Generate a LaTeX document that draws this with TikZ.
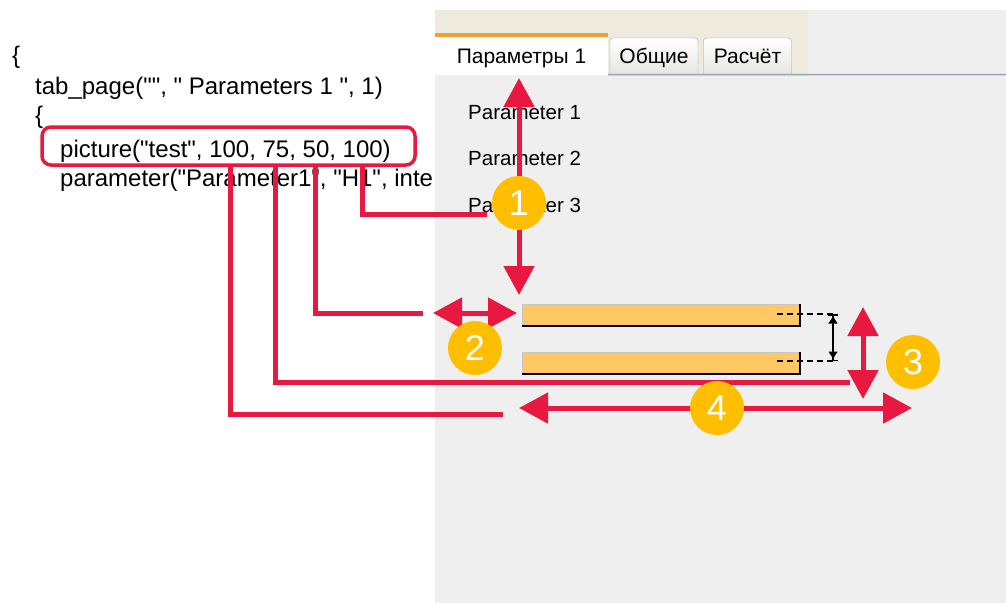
\documentclass[tikz,border=0pt]{standalone}
\usepackage{fontspec}
\setmainfont{Liberation Sans}[Ligatures=TeXOff]
\usetikzlibrary{arrows.meta}
\definecolor{rouge}{RGB}{232,24,64}
\definecolor{jaune}{RGB}{255,190,0}
\definecolor{panneau}{RGB}{239,239,239}
\definecolor{beige}{RGB}{238,234,222}
\definecolor{orangeonglet}{RGB}{240,160,50}
\definecolor{barre}{RGB}{255,200,100}
\definecolor{bordonglet}{RGB}{150,165,180}
\definecolor{fondonglet}{RGB}{228,228,222}
\begin{document}
\begin{tikzpicture}[x=1pt,y=-1pt]
			% Styles (MODIFIABLES)
			\tikzstyle{code}=[anchor=base west,inner sep=0pt,font=\fontsize{24}{28}\selectfont]
			\tikzstyle{libelle}=[anchor=base west,inner sep=0pt,font=\fontsize{20.5}{24}\selectfont]
			\tikzstyle{onglet}=[draw=bordonglet,rounded corners=3pt,top color=white,bottom color=fondonglet,inner sep=0pt,anchor=base,minimum width=88pt,text height=25pt,text depth=14pt,font=\fontsize{21}{24}\selectfont]
			\tikzstyle{ongletactif}=[fill=white,inner sep=0pt,anchor=base,minimum width=173pt,text height=30pt,text depth=12pt,font=\fontsize{21}{24}\selectfont]
			\tikzstyle{barreh}=[fill=barre,draw=gray!45,line width=1pt,minimum width=277pt,minimum height=21pt,inner sep=0pt]
			\tikzstyle{cadre}=[draw=rouge,line width=3.5pt,rounded corners=9pt,minimum width=373pt,minimum height=38pt]
			\tikzstyle{lien}=[draw=rouge,line width=5pt]
			\tikzstyle{fleche}=[draw=rouge,line width=5pt,{Triangle[length=29pt,width=30pt]}-{Triangle[length=29pt,width=30pt]}]
			\tikzstyle{pastille}=[circle,fill=jaune,minimum size=54pt,inner sep=0pt,text=white,font=\fontsize{36}{36}\selectfont]
			\tikzstyle{tirets}=[black,line width=1.6pt,dash pattern=on 6pt off 4pt]
			\tikzstyle{cote}=[black,line width=1.5pt,{Bar[width=10pt]Latex[length=8pt,width=10pt]}-{Latex[length=8pt,width=10pt]Bar[width=10pt]}]
			% Fond
			\useasboundingbox (0,0) rectangle (1006,603);
			\fill[white] (0,0) rectangle (1006,603);
			% Code
			\node[code] (l1) at (12,63) {\{};
			\node[code] (l2) at (35,94) {tab\_page("", " Parameters 1 ", 1)};
			\node[code] (l3) at (35,123) {\{};
			\node[code] (l4) at (60,157) {picture("test", 100, 75, 50, 100)};
			\node[code] (l5) at (60,186) {parameter("Parameter1", "H1", inte};
			% Fenetre
			\fill[beige] (435,10) rectangle (808,75);
			\fill[panneau] (808,10) rectangle (1006,75);
			\node[ongletactif] (onglet1) at (521.5,63) {Параметры 1};
			\fill[orangeonglet] (onglet1.north west) rectangle ([yshift=-4pt]onglet1.north east);
			\node[onglet] (onglet2) at (654,63) {Общие};
			\node[onglet] (onglet3) at (747.5,63) {Расчёт};
			\fill[panneau] (435,75) rectangle (1006,603);
			\coordinate (bordD) at (1006,74.5);
			\draw[bordonglet,line width=1.5pt] ([yshift=0.5pt]onglet1.south east) -- (bordD);
			\node[libelle] (p1) at (468,119) {Parameter 1};
			\node[libelle] (p2) at (468,165) {Parameter 2};
			\node[libelle] (p3) at (468,212) {Parameter 3};
			% Barres
			\node[barreh] (barre1) at (660.5,314.5) {};
			\node[barreh] (barre2) at (660.5,362.5) {};
			\foreach \b in {barre1,barre2}{
				\draw[black,line width=2pt] (\b.south west) -- (\b.south east) -- (\b.north east);
			}
			\coordinate (c1) at (837,314);
			\coordinate (c2) at (837,361);
			\draw[tirets] (777,314) -- (c1);
			\draw[tirets] (777,361) -- (c2);
			\draw[cote] ([xshift=-4pt]c1) -- ([xshift=-4pt]c2);
			% Cadre et liens
			\node[cadre] (cadre) at (228.5,146) {};
			\coordinate (dA) at (230,165); \coordinate (fA) at (503,414);
			\coordinate (dB) at (275,165); \coordinate (fB) at (850,382);
			\coordinate (dC) at (315,165); \coordinate (fC) at (423,313);
			\coordinate (dD) at (362,165); \coordinate (fD) at (487,214);
			\draw[lien] (dA) |- (fA);
			\draw[lien] (dB) |- (fB);
			\draw[lien] (dC) |- (fC);
			\draw[lien] (dD) |- (fD);
			% Fleches
			\coordinate (h1) at (519,78); \coordinate (b1) at (519,295);
			\coordinate (g2) at (433,313); \coordinate (d2) at (517,313);
			\coordinate (h3) at (863,307); \coordinate (b3) at (863,399);
			\coordinate (g4) at (519,408); \coordinate (d4) at (912,408);
			\draw[fleche] (h1) -- (b1);
			\draw[fleche] (g2) -- (d2);
			\draw[fleche] (h3) -- (b3);
			\draw[fleche] (g4) -- (d4);
			% Pastilles
			\node[pastille] (n1) at (519,203) {1};
			\node[pastille] (n2) at (475,348) {2};
			\node[pastille] (n3) at (913,362) {3};
			\node[pastille] (n4) at (717,408) {4};
		\end{tikzpicture}
\end{document}
